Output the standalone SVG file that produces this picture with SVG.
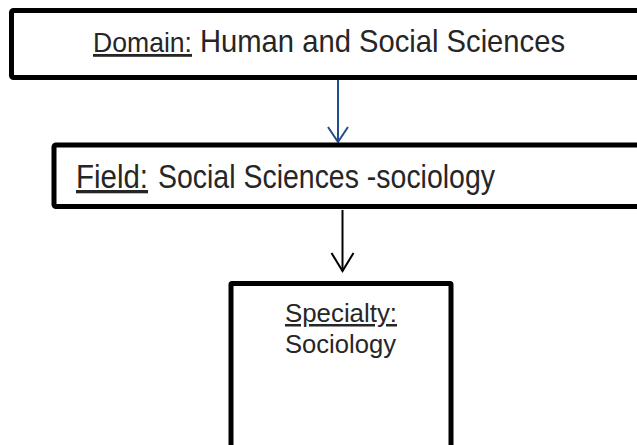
<svg xmlns="http://www.w3.org/2000/svg" width="637" height="445" viewBox="0 0 637 445">
<style>
.box{fill:#fff;stroke:#000;stroke-width:5}
.t{font-family:"Liberation Sans",Arial,sans-serif;fill:#262626}
.u{text-decoration:underline}
</style>
<rect width="637" height="445" fill="#fff"/>
<g id="connectors">
<g stroke="#1f4e89" stroke-width="2" fill="none">
<line x1="338" y1="80" x2="338" y2="142"/>
<polyline points="328,127 338,142 348,127"/>
</g>
<g stroke="#000" stroke-width="2" fill="none">
<line x1="342.5" y1="210" x2="342.5" y2="271"/>
<polyline points="331.5,253 342.5,271 353.5,253"/>
</g>
</g>
<g id="domain">
<rect class="box" x="11.5" y="10.5" width="640" height="67" rx="2"/>
<text class="t u" x="93" y="52" font-size="28" fill="#404040" textLength="99" lengthAdjust="spacingAndGlyphs">Domain:</text>
<text class="t" x="200" y="52" font-size="32" textLength="365" lengthAdjust="spacingAndGlyphs">Human and Social Sciences</text>
</g>
<g id="field">
<rect class="box" x="54" y="145" width="600" height="61.5" rx="2"/>
<text class="t u" x="76" y="188" font-size="33" textLength="72" lengthAdjust="spacingAndGlyphs">Field:</text>
<text class="t" x="158" y="188" font-size="33" textLength="337" lengthAdjust="spacingAndGlyphs">Social Sciences -sociology</text>
</g>
<g id="specialty">
<rect class="box" x="231" y="283.5" width="220" height="165" rx="1"/>
<text class="t u" x="285" y="322" font-size="25" textLength="112" lengthAdjust="spacingAndGlyphs">Specialty:</text>
<text class="t" x="285" y="353" font-size="25" textLength="111" lengthAdjust="spacingAndGlyphs">Sociology</text>
</g>
</svg>
